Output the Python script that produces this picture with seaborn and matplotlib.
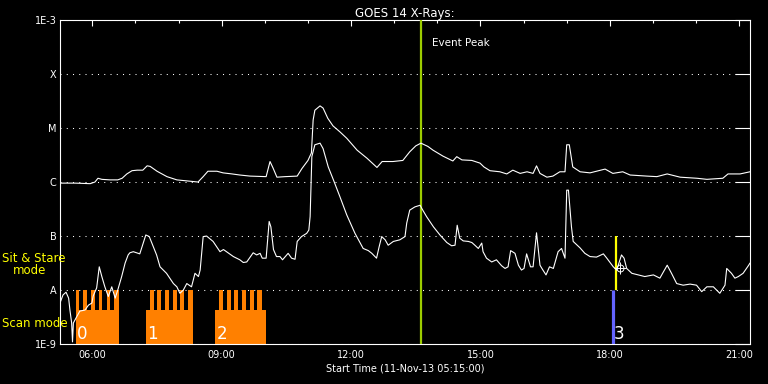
import numpy as np
import pandas as pd
import matplotlib
matplotlib.use("Agg")
import matplotlib.pyplot as plt
import seaborn as sns
from matplotlib.ticker import FixedLocator, FixedFormatter, NullLocator

# ---------------- data (hours of 11-Nov-13, log10 flux in W/m^2) ----------------
long_hours = [5.25, 5.60, 5.95, 6.06, 6.13, 6.22, 6.41, 6.59, 6.69, 6.80, 6.92, 7.04, 7.17, 7.27,
              7.34, 7.50, 7.73, 7.96, 8.33, 8.45, 8.57, 8.68, 8.89, 9.03, 9.24, 9.42, 9.66, 10.03,
              10.12, 10.19, 10.28, 10.47, 10.75, 10.86, 11.00, 11.08, 11.12, 11.16, 11.28, 11.35,
              11.46, 11.58, 11.74, 11.90, 12.14, 12.37, 12.60, 12.72, 12.97, 13.20, 13.36, 13.50,
              13.62, 13.78, 13.90, 14.13, 14.36, 14.45, 14.57, 14.80, 14.99, 15.08, 15.22, 15.45,
              15.61, 15.75, 15.92, 16.08, 16.22, 16.30, 16.38, 16.54, 16.68, 16.84, 16.96, 17.00,
              17.06, 17.14, 17.31, 17.54, 17.89, 18.07, 18.30, 18.47, 18.86, 19.09, 19.33, 19.63,
              20.02, 20.25, 20.62, 20.74, 21.02, 21.25]
long_log10_flux = [-6.03, -6.03, -6.04, -6.01, -5.94, -5.96, -5.97, -5.97, -5.94, -5.86, -5.80, -5.79,
                   -5.79, -5.71, -5.72, -5.81, -5.91, -5.97, -6.00, -6.01, -5.91, -5.81, -5.81, -5.84,
                   -5.86, -5.88, -5.90, -5.91, -5.63, -5.75, -5.92, -5.91, -5.90, -5.76, -5.61, -5.47,
                   -4.86, -4.68, -4.60, -4.64, -4.83, -4.97, -5.08, -5.20, -5.42, -5.57, -5.74, -5.63,
                   -5.63, -5.61, -5.45, -5.34, -5.29, -5.35, -5.42, -5.53, -5.62, -5.54, -5.60, -5.61,
                   -5.66, -5.73, -5.80, -5.82, -5.86, -5.79, -5.85, -5.82, -5.85, -5.71, -5.85, -5.92,
                   -5.90, -5.82, -5.82, -5.32, -5.32, -5.73, -5.82, -5.84, -5.77, -5.85, -5.82, -5.88,
                   -5.90, -5.91, -5.86, -5.92, -5.94, -5.96, -5.94, -5.86, -5.86, -5.82]

short_hours = [5.25, 5.32, 5.39, 5.45, 5.48, 5.52, 5.54, 5.56, 5.62, 5.71, 5.83, 5.91, 5.99, 6.02,
               6.10, 6.16, 6.22, 6.29, 6.37, 6.45, 6.53, 6.60, 6.68, 6.76, 6.83, 6.87, 6.95, 7.10,
               7.18, 7.24, 7.32, 7.49, 7.57, 7.72, 7.88, 7.96, 8.03, 8.11, 8.19, 8.30, 8.38, 8.46,
               8.50, 8.57, 8.65, 8.80, 8.96, 9.04, 9.27, 9.42, 9.50, 9.58, 9.73, 9.81, 9.89, 9.94,
               10.03, 10.10, 10.14, 10.20, 10.27, 10.35, 10.41, 10.54, 10.62, 10.70, 10.75, 10.85,
               10.97, 11.02, 11.05, 11.09, 11.16, 11.28, 11.35, 11.47, 11.59, 11.74, 11.90, 12.09,
               12.28, 12.40, 12.48, 12.59, 12.65, 12.71, 12.79, 12.86, 12.98, 13.13, 13.25, 13.29,
               13.36, 13.48, 13.60, 13.64, 13.75, 13.91, 14.06, 14.22, 14.33, 14.41, 14.46, 14.52,
               14.60, 14.72, 14.80, 14.87, 14.95, 15.03, 15.06, 15.14, 15.26, 15.37, 15.49, 15.57,
               15.64, 15.70, 15.80, 15.88, 15.95, 16.01, 16.07, 16.16, 16.22, 16.30, 16.38, 16.44,
               16.52, 16.60, 16.69, 16.80, 16.88, 16.96, 17.00, 17.04, 17.11, 17.15, 17.31, 17.42,
               17.54, 17.69, 17.85, 17.93, 18.08, 18.16, 18.27, 18.33, 18.39, 18.51, 18.66, 18.81,
               19.01, 19.16, 19.33, 19.43, 19.55, 19.70, 19.86, 20.01, 20.13, 20.25, 20.40, 20.55,
               20.67, 20.71, 20.82, 20.90, 20.98, 21.09, 21.22, 21.25]
short_log10_flux = [-8.25, -8.10, -8.05, -8.16, -8.38, -8.62, -8.97, -8.62, -8.53, -8.40, -8.38, -8.29,
                    -8.25, -8.12, -7.97, -7.58, -7.76, -7.95, -8.13, -7.95, -8.16, -7.98, -7.76, -7.51,
                    -7.36, -7.32, -7.30, -7.34, -7.14, -6.99, -7.02, -7.36, -7.58, -7.70, -7.89, -7.95,
                    -8.07, -8.01, -7.89, -7.95, -7.70, -7.76, -7.64, -7.02, -7.01, -7.11, -7.30, -7.26,
                    -7.39, -7.45, -7.50, -7.49, -7.32, -7.36, -7.33, -7.42, -7.42, -6.74, -6.84, -7.26,
                    -7.39, -7.39, -7.45, -7.33, -7.42, -7.44, -7.11, -7.02, -6.96, -6.90, -6.65, -5.54,
                    -5.32, -5.29, -5.39, -5.73, -5.97, -6.28, -6.62, -6.96, -7.24, -7.28, -7.33, -7.42,
                    -7.21, -7.02, -7.08, -7.18, -7.11, -7.08, -7.02, -6.77, -6.53, -6.47, -6.44, -6.50,
                    -6.65, -6.84, -6.99, -7.13, -7.19, -7.18, -6.81, -7.05, -7.10, -7.11, -7.13, -7.18,
                    -7.24, -7.14, -7.30, -7.42, -7.49, -7.45, -7.56, -7.61, -7.58, -7.28, -7.33, -7.55,
                    -7.64, -7.61, -7.34, -7.58, -7.58, -6.95, -7.55, -7.63, -7.73, -7.58, -7.61, -7.30,
                    -7.24, -7.42, -6.16, -6.16, -6.84, -7.11, -7.23, -7.33, -7.39, -7.40, -7.34, -7.42,
                    -7.58, -7.64, -7.36, -7.42, -7.61, -7.70, -7.73, -7.76, -7.73, -7.79, -7.55, -7.70,
                    -7.89, -7.92, -7.90, -7.92, -8.04, -7.95, -7.95, -8.07, -7.92, -7.61, -7.70, -7.79,
                    -7.76, -7.70, -7.55, -7.51]

goes_levels = [1e-9, 1e-8, 1e-7, 1e-6, 1e-5, 1e-4, 1e-3]
goes_labels = ["1E-9", "A", "B", "C", "M", "X", "1E-3"]
hour_ticks = [6, 9, 12, 15, 18, 21]
hour_labels = ["06:00", "09:00", "12:00", "15:00", "18:00", "21:00"]
hour_minor = list(range(6, 22))

event_peak_hour = 13.62
sitstare_hour = 18.14
sitstare_flux = [1e-8, 1e-7]
scan3_hour = 18.07
scan3_flux = [1e-9, 1e-8]
marker_hour = [18.24]
marker_log10_flux = [-7.60]

scan_block_start = [5.62, 7.24, 8.85]
scan_block_end = [6.62, 8.33, 10.03]
scan_block_labels = ["0", "1", "2"]
raster_start = [5.61, 5.79, 5.97, 6.15, 6.33, 6.51,
                7.34, 7.51, 7.68, 7.86, 8.03, 8.22,
                8.94, 9.12, 9.29, 9.47, 9.65, 9.82]
raster_end = [5.69, 5.87, 6.05, 6.23, 6.41, 6.62,
              7.42, 7.60, 7.78, 7.96, 8.13, 8.33,
              9.03, 9.21, 9.38, 9.56, 9.74, 9.93]
scan_fill_top = 4.2e-9
raster_top = 1e-8
floor_flux = 1e-9

# ---------------- style ----------------
sns.set_theme(style="dark")
plt.rcParams.update({
    "figure.facecolor": "black",
    "axes.facecolor": "black",
    "axes.edgecolor": "white",
    "text.color": "white",
    "axes.labelcolor": "white",
    "xtick.color": "white",
    "ytick.color": "white",
    "font.family": ["DejaVu Sans"],
})

ORANGE = "#ff8000"
BLUE = "#6464ff"
YELLOW = "#ffff00"
PEAKGREEN = "#9ccc00"

fig = plt.figure(figsize=(7.68, 3.84), dpi=100)
ax = fig.add_axes([60 / 768, 1 - 343.5 / 384, 690 / 768, 324 / 384])
ax.set_facecolor("black")

# orange scan blocks
ax.bar(scan_block_start, [scan_fill_top - floor_flux] * len(scan_block_start),
       width=np.array(scan_block_end) - np.array(scan_block_start),
       bottom=floor_flux, align="edge", color=ORANGE, linewidth=0, zorder=1)
ax.bar(raster_start, [raster_top - floor_flux] * len(raster_start),
       width=np.array(raster_end) - np.array(raster_start),
       bottom=floor_flux, align="edge", color=ORANGE, linewidth=0, zorder=1)

# curves
df_long = pd.DataFrame({"hour": long_hours, "flux": np.power(10.0, long_log10_flux)})
df_short = pd.DataFrame({"hour": short_hours, "flux": np.power(10.0, short_log10_flux)})
sns.lineplot(data=df_long, x="hour", y="flux", color="white", linewidth=0.8,
             estimator=None, sort=False, ax=ax, zorder=4)
sns.lineplot(data=df_short, x="hour", y="flux", color="white", linewidth=0.8,
             estimator=None, sort=False, ax=ax, zorder=4)

# vertical markers
ax.axvline(event_peak_hour, color=PEAKGREEN, linewidth=1.6, zorder=3)
ax.vlines(sitstare_hour, sitstare_flux[0], sitstare_flux[1], color=YELLOW, linewidth=1.6, zorder=3)
ax.vlines(scan3_hour, scan3_flux[0], scan3_flux[1], color=BLUE, linewidth=2.3, zorder=3)
ax.plot(marker_hour, np.power(10.0, marker_log10_flux), marker="o", ms=5, mfc="none",
        mec="white", mew=0.7, ls="none", zorder=5)
ax.plot(marker_hour, np.power(10.0, marker_log10_flux), marker="+", ms=8,
        mec="white", mew=0.7, ls="none", zorder=5)

ax.text(13.87, 10 ** -3.426, "Event Peak", color="white", fontsize=7.5, va="center", ha="left")

for s, lab in zip(scan_block_start, scan_block_labels):
    ax.text(s + 0.03, floor_flux * 1.02, lab, color="white", fontsize=12, va="bottom", ha="left", zorder=6)
ax.text(scan3_hour + 0.02, floor_flux * 1.02, "3", color="white", fontsize=12, va="bottom", ha="left", zorder=6)

# axes
ax.set_yscale("log")
ax.set_xlim(5.25, 21.25)
ax.set_ylim(1e-9, 1e-3)
ax.yaxis.set_major_locator(FixedLocator(goes_levels))
ax.yaxis.set_major_formatter(FixedFormatter(goes_labels))
ax.yaxis.set_minor_locator(NullLocator())
ax.xaxis.set_major_locator(FixedLocator(hour_ticks))
ax.xaxis.set_major_formatter(FixedFormatter(hour_labels))
ax.xaxis.set_minor_locator(FixedLocator(hour_minor))

ax.tick_params(axis="both", which="both", direction="in", colors="white",
               top=True, right=True, labeltop=False, labelright=False)
ax.tick_params(axis="y", which="major", length=10.6, width=0.8, pad=2.6, labelsize=7)
ax.tick_params(axis="x", which="major", length=4.3, width=0.8, pad=4.4, labelsize=7)
ax.tick_params(axis="x", which="minor", length=2.3, width=0.8)

ax.grid(axis="y", which="major", color="white", linestyle=(0, (1, 5)), linewidth=0.75)
ax.grid(axis="x", visible=False)
for sp in ax.spines.values():
    sp.set_color("white")
    sp.set_linewidth(0.8)
    sp.set_visible(True)

ax.set_title("GOES 14 X-Rays:", color="white", fontsize=8.5, pad=2.0)
ax.set_xlabel("Start Time (11-Nov-13 05:15:00)", color="white", fontsize=7, labelpad=2.5)
ax.set_ylabel("")

fig.text(2 / 768, 1 - 258.5 / 384, "Sit & Stare", color=YELLOW, fontsize=8.5, ha="left", va="center")
fig.text(12.7 / 768, 1 - 270.5 / 384, "mode", color=YELLOW, fontsize=8.5, ha="left", va="center")
fig.text(2 / 768, 1 - 323.5 / 384, "Scan mode", color=YELLOW, fontsize=8.5, ha="left", va="center")

fig.savefig("out.png", dpi=100, facecolor="black")
